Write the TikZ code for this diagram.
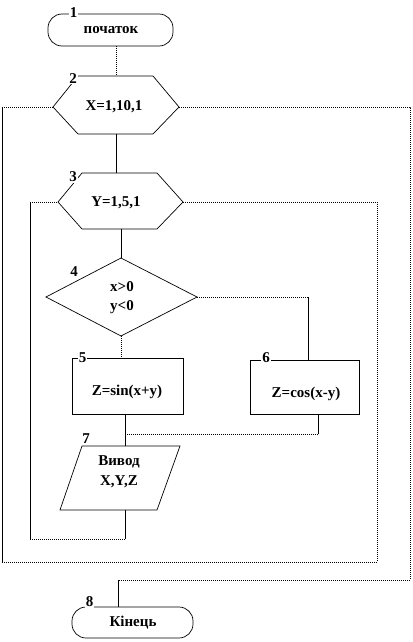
\documentclass[tikz,border=0pt]{standalone}
\usepackage{fontspec}
\setmainfont{Liberation Serif}
\begin{document}
\begin{tikzpicture}[x=1pt,y=-1pt,
  shp/.style={draw=black,line width=0.7pt},
  solidc/.style={draw=black,line width=0.9pt},
  dotc/.style={draw=black,line width=0.9pt,dash pattern=on 1pt off 1pt},
  txt/.style={font=\fontsize{15}{18}\selectfont\bfseries, inner sep=0pt, align=center},
  num/.style={font=\fontsize{15}{17}\selectfont\bfseries, fill=white, inner sep=1pt}]
\useasboundingbox (0,0) rectangle (412,642);

% ---- shapes ----
% 1 terminator
\draw[shp, rounded corners=14pt] (48,14) rectangle (173,46);
\node[txt] (t1) at (111,30) {початок};
\coordinate (t1b) at (116,46);
% 2 hexagon
\draw[shp] (53,107) -- (78,76) -- (153,76) -- (179,107) -- (153,134) -- (78,134) -- cycle;
\node[txt] (h2) at (114,107) {X=1,10,1};
\coordinate (h2t) at (116,76);
\coordinate (h2l) at (53,107);
\coordinate (h2r) at (179,107);
\coordinate (h2b) at (116,134);
% 3 hexagon
\draw[shp] (58,202) -- (82,173) -- (157,173) -- (183,202) -- (157,229) -- (82,229) -- cycle;
\node[txt] (h3) at (116,203) {Y=1,5,1};
\coordinate (h3t) at (116,173);
\coordinate (h3l) at (58,202);
\coordinate (h3r) at (183,202);
\coordinate (h3b) at (121,229);
% 4 diamond
\draw[shp] (121,258) -- (197,297) -- (121,336) -- (46,297) -- cycle;
\node[txt] (d4) at (122,298) {x>0\\[1pt]y<0};
\coordinate (d4t) at (121,258);
\coordinate (d4r) at (197,297);
\coordinate (d4b) at (121,336);
% 5 process
\draw[shp] (72,358) rectangle (183,414);
\node[txt] (b5) at (127,392) {Z=sin(x+y)};
\coordinate (b5t) at (121,358);
\coordinate (b5b) at (125,414);
% 6 process
\draw[shp] (250,360) rectangle (359,414);
\node[txt] (b6) at (306,394) {Z=cos(x-y)};
\coordinate (b6t) at (308,360);
\coordinate (b6b) at (318,414);
% 7 output parallelogram
\draw[shp] (82,446) -- (180,446) -- (157,510) -- (60,510) -- cycle;
\node[txt] (p7) at (119,472) {Вивод\\[2pt]X,Y,Z};
\coordinate (p7t) at (125,446);
\coordinate (p7b) at (125,510);
% 8 terminator
\draw[shp, rounded corners=14pt] (72,607) rectangle (193,638);
\node[txt] (t8) at (133,623) {Кінець};
\coordinate (t8t) at (118,607);

% ---- connectors ----
\draw[dotc] (t1b) -- (h2t);
\draw[solidc] (h2b) -- (h3t);
\draw[solidc] (h3b) -- (d4t);
\draw[dotc] (d4b) -- (b5t);
\coordinate (j) at (125,434);
\draw[solidc] (b5b) -- (p7t);
\draw[solidc] (b6b) -- (b6b |- j);
\draw[dotc] (b6b |- j) -- (j);
% yes branch to box 6
\coordinate (c6) at (308,297);
\draw[dotc] (d4r) -- (c6);
\draw[solidc] (c6) -- (b6t);
% inner loop return
\coordinate (l1) at (125,539);
\coordinate (l2) at (30,539);
\coordinate (l3) at (30,202);
\draw[solidc] (p7b) -- (l1);
\draw[dotc] (l1) -- (l2);
\draw[solidc] (l2) -- (l3);
\draw[dotc] (l3) -- (h3l);
% inner loop exit -> outer loop return
\coordinate (m1) at (377,202);
\coordinate (m2) at (377,562);
\coordinate (m3) at (2,562);
\coordinate (m4) at (2,107);
\draw[dotc] (h3r) -- (m1) -- (m2) -- (m3);
\draw[solidc] (m3) -- (m4);
\draw[dotc] (m4) -- (h2l);
% outer loop exit -> end
\coordinate (n1) at (410,107);
\coordinate (n2) at (410,580);
\coordinate (n3) at (118,580);
\draw[dotc] (h2r) -- (n1) -- (n2) -- (n3);
\draw[solidc] (n3) -- (t8t);

% ---- number labels ----
\node[num] (n1l) at (73.5,12.5) {1};
\node[num] (n2l) at (73,78.5) {2};
\node[num] (n3l) at (73,177) {3};
\node[num] (n4l) at (74,272) {4};
\node[num] (n5l) at (82.5,358) {5};
\node[num] (n6l) at (266,358) {6};
\node[num] (n7l) at (86,439) {7};
\node[num] (n8l) at (89.5,602) {8};
\end{tikzpicture}
\end{document}
